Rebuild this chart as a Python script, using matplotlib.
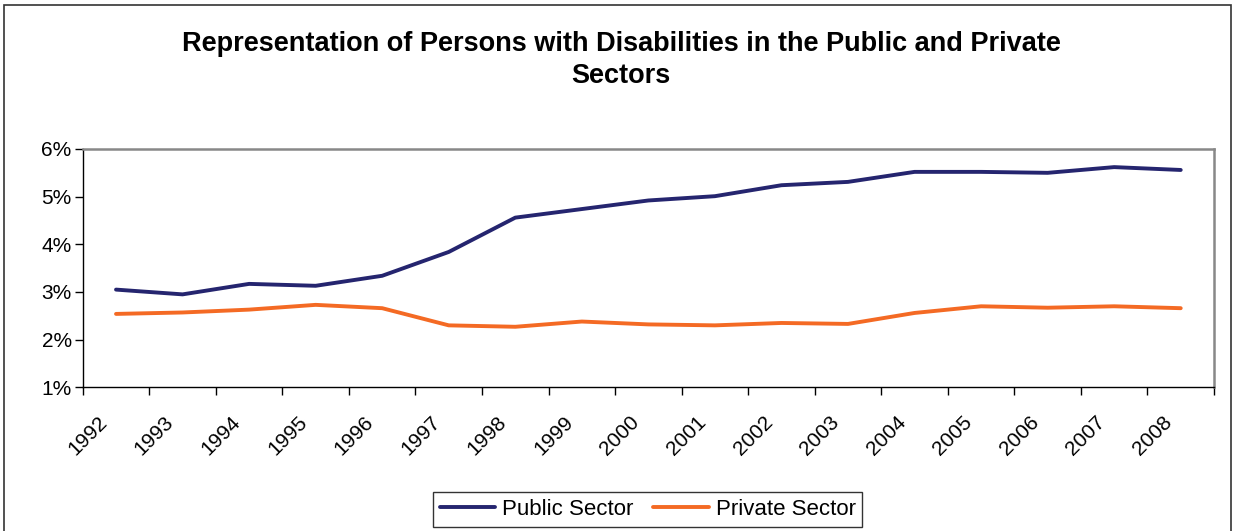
import matplotlib.pyplot as plt
import matplotlib.transforms as mtransforms
import numpy as np
from matplotlib.patches import Rectangle
from matplotlib.ticker import FuncFormatter

plt.rcParams['font.family'] = ['Liberation Sans', 'DejaVu Sans']

# data (percent)
years = ['1992', '1993', '1994', '1995', '1996', '1997', '1998', '1999', '2000',
         '2001', '2002', '2003', '2004', '2005', '2006', '2007', '2008']
public_sector = [3.05, 2.95, 3.17, 3.13, 3.34, 3.84, 4.56, 4.74, 4.92,
                 5.01, 5.24, 5.31, 5.52, 5.52, 5.50, 5.62, 5.56]
private_sector = [2.54, 2.57, 2.63, 2.73, 2.66, 2.30, 2.27, 2.38, 2.32,
                  2.30, 2.35, 2.33, 2.56, 2.70, 2.67, 2.70, 2.66]

fig = plt.figure(figsize=(12.35, 5.31), dpi=100)
ax = fig.add_axes([0.067, 0.2706, 0.916, 0.4488])

x = np.arange(len(years))
ax.plot(x, public_sector, color='#25256F', lw=2.8, label='Public Sector',
        solid_capstyle='round')
ax.plot(x, private_sector, color='#F46A24', lw=2.8, label='Private Sector',
        solid_capstyle='round')

ax.set_xlim(-0.5, len(years) - 0.5)
ax.set_ylim(1, 6)
ax.set_yticks(range(1, 7))
ax.yaxis.set_major_formatter(FuncFormatter(lambda v, p: '%d%%' % v))

# category boundaries get the tick marks, centres get the labels
ax.set_xticks(np.arange(-0.5, len(years)))
ax.set_xticklabels([])
ax.set_xticks(x, minor=True)
ax.set_xticklabels(years, minor=True, rotation=45, ha='right', fontsize=15)
ax.tick_params(axis='x', which='minor', length=0, pad=18)
ax.tick_params(axis='x', which='major', length=6, width=1, direction='out')
ax.tick_params(axis='y', length=6, width=1, direction='out', labelsize=15, pad=2)
offset = mtransforms.ScaledTranslation(-5 / 100, 0, fig.dpi_scale_trans)
for lab in ax.get_xticklabels(minor=True):
    lab.set_transform(lab.get_transform() + offset)

for s in ['left', 'bottom']:
    ax.spines[s].set_color('black')
    ax.spines[s].set_linewidth(1)
for s in ['top', 'right']:
    ax.spines[s].set_color('#888888')
    ax.spines[s].set_linewidth(1.8)

fig.text(0.503, 0.942, 'Representation of Persons with Disabilities in the Public and Private\nSectors',
         ha='center', va='top', fontsize=19.5, fontweight='bold', linespacing=1.3)

leg = fig.legend(loc='center', bbox_to_anchor=(0.5245, 0.0405), ncol=2, fontsize=16,
                 frameon=True, fancybox=False, edgecolor='black', handlelength=2.5,
                 handletextpad=0.3, columnspacing=0.9, borderpad=0.3,
                 borderaxespad=0)
leg.get_frame().set_linewidth(1)

fig.patches.append(Rectangle((0.003, -0.01), 0.994, 1.0, transform=fig.transFigure,
                             fill=False, edgecolor='#333333', lw=1.2))

fig.savefig('out.png', dpi=100)
